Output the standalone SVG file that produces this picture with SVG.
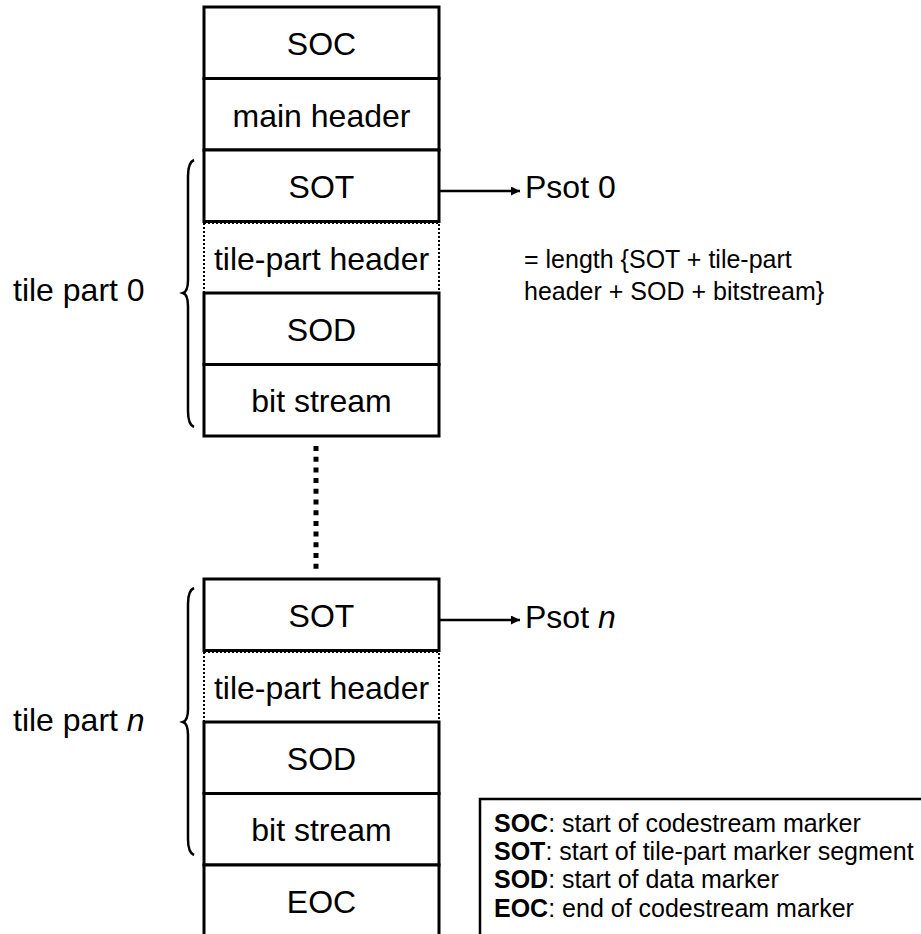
<svg xmlns="http://www.w3.org/2000/svg" width="921" height="934" viewBox="0 0 921 934">
<defs>
<style>
.box{fill:#fff;stroke:#000;stroke-width:3}
.dot{fill:#fff;stroke:#000;stroke-width:2;stroke-dasharray:2 2}
.t{font-family:"Liberation Sans",Arial,sans-serif;font-size:32px;fill:#000;text-anchor:middle}
.s{font-family:"Liberation Sans",Arial,sans-serif;font-size:32px;fill:#000}
.a{font-family:"Liberation Sans",Arial,sans-serif;font-size:25px;fill:#000}
.brace{fill:none;stroke:#000;stroke-width:2.5}
.line{fill:none;stroke:#000;stroke-width:2.5}
</style>
<marker id="arr" viewBox="0 0 10 10" refX="10" refY="5" markerWidth="10" markerHeight="9" markerUnits="userSpaceOnUse" orient="auto">
<path d="M0,0 L10,5 L0,10 z" fill="#000"/>
</marker>
</defs>
<rect width="921" height="934" fill="#fff"/>
<g id="soc"><rect class="box" x="204" y="7" width="235" height="71.5"/><text class="t" x="321.5" y="55">SOC</text></g>
<g id="main-header"><rect class="box" x="204" y="78.5" width="235" height="71.5"/><text class="t" x="321.5" y="126.5">main header</text></g>
<g id="sot0"><rect class="box" x="204" y="150" width="235" height="71.5"/><text class="t" x="321.5" y="198">SOT</text></g>
<g id="tph0"><rect class="dot" x="204" y="223" width="235" height="70"/><text class="t" x="321.5" y="269.5">tile-part header</text></g>
<g id="sod0"><rect class="box" x="204" y="293" width="235" height="71.5"/><text class="t" x="321.5" y="341">SOD</text></g>
<g id="bs0"><rect class="box" x="204" y="364.5" width="235" height="71.5"/><text class="t" x="321.5" y="412">bit stream</text></g>
<g id="sotn"><rect class="box" x="204" y="579" width="235" height="71.5"/><text class="t" x="321.5" y="627">SOT</text></g>
<g id="tphn"><rect class="dot" x="204" y="652" width="235" height="70"/><text class="t" x="321.5" y="698.5">tile-part header</text></g>
<g id="sodn"><rect class="box" x="204" y="722" width="235" height="71.5"/><text class="t" x="321.5" y="770">SOD</text></g>
<g id="bsn"><rect class="box" x="204" y="793.5" width="235" height="71.5"/><text class="t" x="321.5" y="841">bit stream</text></g>
<g id="eoc"><rect class="box" x="204" y="865" width="235" height="71.5"/><text class="t" x="321.5" y="913">EOC</text></g>
<g id="tile-part-0"><path class="brace" d="M194,160 C189,162 188,168 188,176 L188,280 C188,288 186,292 183,293 C186,294 188,298 188,306 L188,411 C188,419 189,425 194,427"/><text class="s" x="13" y="301">tile part 0</text></g>
<g id="tile-part-n"><path class="brace" d="M194,588 C189,590 188,596 188,604 L188,709 C188,717 186,721 183,722 C186,723 188,727 188,735 L188,839 C188,847 189,853 194,855"/><text class="s" x="13" y="731">tile part <tspan font-style="italic">n</tspan></text></g>
<g id="psot0"><text class="s" x="525" y="198">Psot 0</text></g>
<g id="psotn"><text class="s" x="525" y="628">Psot <tspan font-style="italic">n</tspan></text></g>
<g id="note"><text class="a" x="524" y="268">= length {SOT + tile-part</text><text class="a" x="524" y="300">header + SOD + bitstream}</text></g>
<g id="legend"><rect x="480" y="799" width="460" height="160" fill="#fff" stroke="#000" stroke-width="2.5"/>
<text class="a" x="494" y="832"><tspan font-weight="bold">SOC</tspan>: start of codestream marker</text>
<text class="a" x="494" y="860"><tspan font-weight="bold">SOT</tspan>: start of tile-part marker segment</text>
<text class="a" x="494" y="888"><tspan font-weight="bold">SOD</tspan>: start of data marker</text>
<text class="a" x="494" y="917"><tspan font-weight="bold">EOC</tspan>: end of codestream marker</text></g>
<g id="connectors">
<line class="line" x1="439" y1="191" x2="520" y2="191" marker-end="url(#arr)"/>
<line class="line" x1="439" y1="620" x2="520" y2="620" marker-end="url(#arr)"/>
<line x1="316" y1="446" x2="316" y2="570" stroke="#000" stroke-width="5" stroke-dasharray="5 5.7"/>
</g>
</svg>
